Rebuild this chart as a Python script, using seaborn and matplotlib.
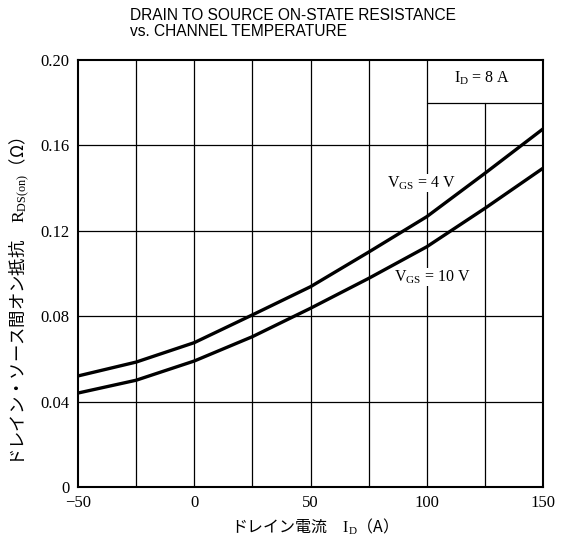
import numpy as np
import pandas as pd
import matplotlib
matplotlib.use("Agg")
import matplotlib.pyplot as plt
import seaborn as sns

# data
temp = [-50, -25, 0, 25, 50, 75, 100, 125, 150]
r_vgs4 = [0.052, 0.0585, 0.0676, 0.0806, 0.0938, 0.110, 0.1266, 0.1469, 0.1677]
r_vgs10 = [0.044, 0.050, 0.059, 0.0704, 0.0837, 0.0977, 0.1125, 0.1305, 0.1493]
x_ticks = [-50, 0, 50, 100, 150]
x_tick_labels = ["\u221250", "0", "50", "100", "150"]
y_ticks = [0, 0.04, 0.08, 0.12, 0.16, 0.20]
y_tick_labels = ["0", "0.04", "0.08", "0.12", "0.16", "0.20"]

df = pd.DataFrame({
    "temp": temp * 2,
    "rds": r_vgs4 + r_vgs10,
    "vgs": ["4 V"] * len(temp) + ["10 V"] * len(temp),
})

sns.set_style("white")
plt.rcParams["font.family"] = ["Liberation Serif", "Noto Sans CJK JP"]
plt.rcParams["mathtext.fontset"] = "custom"
plt.rcParams["mathtext.rm"] = "Liberation Serif"
plt.rcParams["mathtext.it"] = "Liberation Serif"
for k in ["text.color", "axes.labelcolor", "xtick.color", "ytick.color"]:
    plt.rcParams[k] = "black"

fig = plt.figure(figsize=(5.64, 5.44), dpi=100)
ax = fig.add_axes([0.1383, 0.1048, 0.8245, 0.785])

# grid: every 25 on x, every 0.04 on y, plus the small I_D box
for xv in [-25, 0, 25, 50, 75, 100]:
    ax.axvline(xv, color="black", lw=0.9, zorder=1)
ax.axvline(125, ymin=0, ymax=0.9, color="black", lw=0.9, zorder=1)
for yv in [0.04, 0.08, 0.12, 0.16]:
    ax.axhline(yv, color="black", lw=0.9, zorder=1)
ax.axhline(0.18, xmin=0.75, xmax=1.0, color="black", lw=0.9, zorder=1)

sns.lineplot(data=df, x="temp", y="rds", hue="vgs", palette=["black", "black"],
             linewidth=2.4, legend=False, ax=ax, zorder=3)

ax.set_xlim(-50, 150)
ax.set_ylim(0, 0.20)
ax.set_xticks(x_ticks)
ax.set_xticklabels(x_tick_labels)
ax.set_yticks(y_ticks)
ax.set_yticklabels(y_tick_labels)
ax.tick_params(length=0, labelsize=12, pad=6)
for s in ax.spines.values():
    s.set_linewidth(1.5)
    s.set_color("black")

cjk = ["Noto Sans CJK JP", "DejaVu Sans"]
ax.set_xlabel("ドレイン電流　$\\mathrm{I_D}$（A）", fontsize=11.5, labelpad=4, family=cjk)
ax.set_ylabel("ドレイン・ソース間オン抵抗　$\\mathrm{R_{DS(on)}}$（Ω）", fontsize=12.5,
              family=cjk)
ax.yaxis.set_label_coords(-0.098, 0.435)

ax.text(83, 0.1423, "$\\mathrm{V_{GS}}$ = 4 V", fontsize=11.5, va="center", ha="left",
        bbox=dict(facecolor="white", edgecolor="none", pad=0.5), zorder=4)
ax.text(86, 0.0983, "$\\mathrm{V_{GS}}$ = 10 V", fontsize=11.5, va="center", ha="left",
        bbox=dict(facecolor="white", edgecolor="none", pad=0.5), zorder=4)
ax.text(124, 0.1915, "$\\mathrm{I_D}$ = 8 A", fontsize=11.5, va="center", ha="center")

fig.text(0.231, 0.985, "DRAIN TO SOURCE ON-STATE RESISTANCE\nvs. CHANNEL TEMPERATURE",
         family="Liberation Sans", fontsize=11.2, va="top", ha="left", linespacing=1.1)

fig.savefig("out.png", dpi=100)
